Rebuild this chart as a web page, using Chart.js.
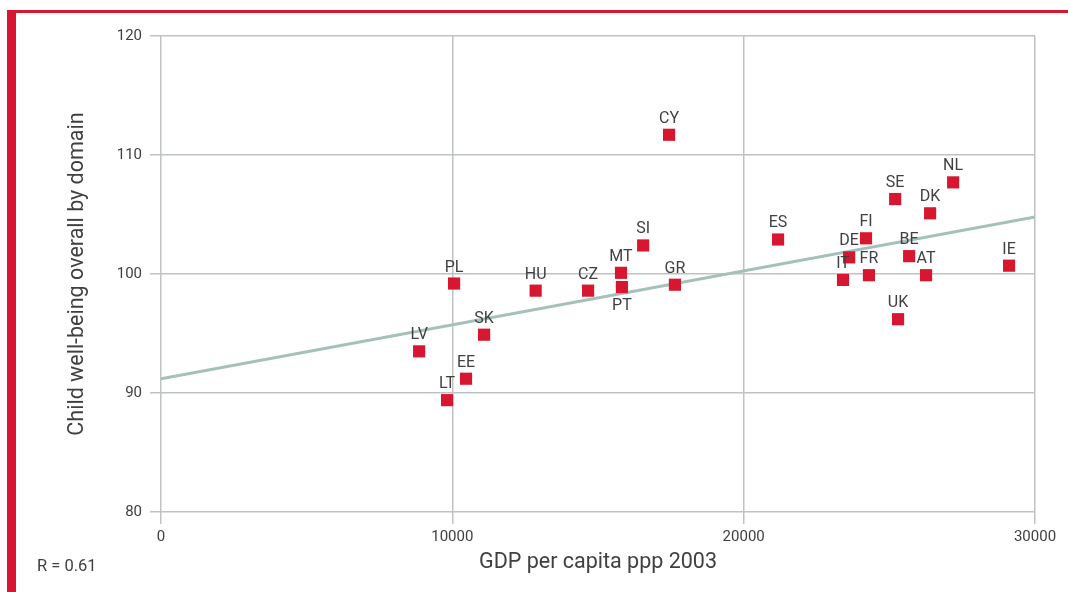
<!DOCTYPE html>
<html>
<head>
<meta charset="utf-8">
<script src="https://cdn.jsdelivr.net/npm/chart.js@4/dist/chart.umd.min.js"></script>
<style>
  html, body { margin: 0; padding: 0; background: #fff; }
  #wrap { position: relative; width: 1068px; height: 592px; }
</style>
</head>
<body>
<div id="wrap"><canvas id="c" width="1068" height="592"></canvas></div>
<script>
const countries = ['CY','NL','SE','DK','FI','ES','SI','DE','BE','IE','AT','FR','IT','UK','MT','PT','GR','CZ','HU','PL','SK','LV','EE','LT'];
const gdp = [17440,27190,25200,26400,24200,21180,16550,23620,25680,29110,26260,24300,23410,25300,15790,15820,17640,14660,12860,10060,11090,8860,10470,9820];
const wellbeing = [111.7,107.7,106.3,105.1,103.0,102.9,102.4,101.4,101.5,100.7,99.9,99.9,99.5,96.2,100.1,98.9,99.1,98.6,98.6,99.2,94.9,93.5,91.2,89.4];
const labelsBelow = ['PT'];
const trendX = [0, 30000];
const trendY = [91.2, 104.8];
const xTicks = [0, 10000, 20000, 30000];
const yTicks = [80, 90, 100, 110, 120];
const xTitle = 'GDP per capita ppp 2003';
const yTitle = 'Child well-being overall by domain';
const rText = 'R = 0.61';

const RED = '#d7172f';
const TEXT = '#404040';
const GRID = '#bec3c2';
const FONT = "Roboto, 'Liberation Sans', Arial, sans-serif";

const points = countries.map((c, i) => ({ x: gdp[i], y: wellbeing[i], label: c }));
const trend = trendX.map((x, i) => ({ x: x, y: trendY[i] }));

const decor = {
  id: 'decor',
  beforeDraw(chart) {
    const ctx = chart.ctx;
    ctx.save();
    ctx.fillStyle = RED;
    ctx.fillRect(7, 10, 9, 582);
    ctx.fillRect(7, 10, 1061, 3);
    ctx.fillStyle = TEXT;
    ctx.font = '16.5px ' + FONT;
    ctx.textAlign = 'left';
    ctx.textBaseline = 'middle';
    ctx.fillText(rText, 37, 567);
    ctx.restore();
  },
  afterDatasetsDraw(chart) {
    const ctx = chart.ctx;
    const meta = chart.getDatasetMeta(0);
    ctx.save();
    ctx.fillStyle = TEXT;
    ctx.font = '16px ' + FONT;
    ctx.textAlign = 'center';
    ctx.textBaseline = 'middle';
    meta.data.forEach((el, i) => {
      const lab = countries[i];
      const dy = labelsBelow.includes(lab) ? 19 : -16;
      ctx.fillText(lab, el.x, el.y + dy);
    });
    ctx.restore();
  }
};

new Chart(document.getElementById('c'), {
  type: 'scatter',
  data: {
    datasets: [
      {
        data: points,
        pointStyle: 'rect',
        pointRadius: 8.6,
        pointBorderWidth: 0,
        backgroundColor: RED,
        borderColor: RED
      },
      {
        type: 'line',
        data: trend,
        showLine: true,
        borderColor: '#a5c0bb',
        borderWidth: 3,
        pointRadius: 0,
        fill: false
      }
    ]
  },
  options: {
    responsive: false,
    animation: false,
    devicePixelRatio: 1,
    layout: { padding: { left: 60, right: 33, top: 36, bottom: 12 } },
    plugins: { legend: { display: false }, tooltip: { enabled: false } },
    scales: {
      x: {
        type: 'linear',
        min: 0, max: 30000,
        afterBuildTicks(scale) { scale.ticks = xTicks.map(v => ({ value: v })); },
        afterFit(scale) { scale.height = 68; scale.paddingLeft = 0; scale.paddingRight = 0; },
        ticks: {
          callback: v => String(v),
          color: TEXT,
          font: { family: FONT, size: 15 },
          padding: 4,
          maxRotation: 0
        },
        grid: { color: GRID, lineWidth: 1.5, tickLength: 12, drawTicks: true },
        border: { display: false },
        title: {
          display: true, text: xTitle, color: TEXT,
          font: { family: FONT, size: 21.5 },
          padding: { top: 0, bottom: 4 }
        }
      },
      y: {
        type: 'linear',
        min: 80, max: 120,
        afterBuildTicks(scale) { scale.ticks = yTicks.map(v => ({ value: v })); },
        afterFit(scale) { scale.width = 101; scale.paddingTop = 0; scale.paddingBottom = 0; },
        ticks: {
          callback: v => String(v),
          color: TEXT,
          font: { family: FONT, size: 15 },
          padding: 8
        },
        grid: { color: GRID, lineWidth: 1.5, tickLength: 11, drawTicks: true },
        border: { display: false },
        title: {
          display: true, text: yTitle, color: TEXT,
          font: { family: FONT, size: 21.5 },
          padding: { top: 5, bottom: 0 }
        }
      }
    }
  },
  plugins: [decor]
});
</script>
</body>
</html>
